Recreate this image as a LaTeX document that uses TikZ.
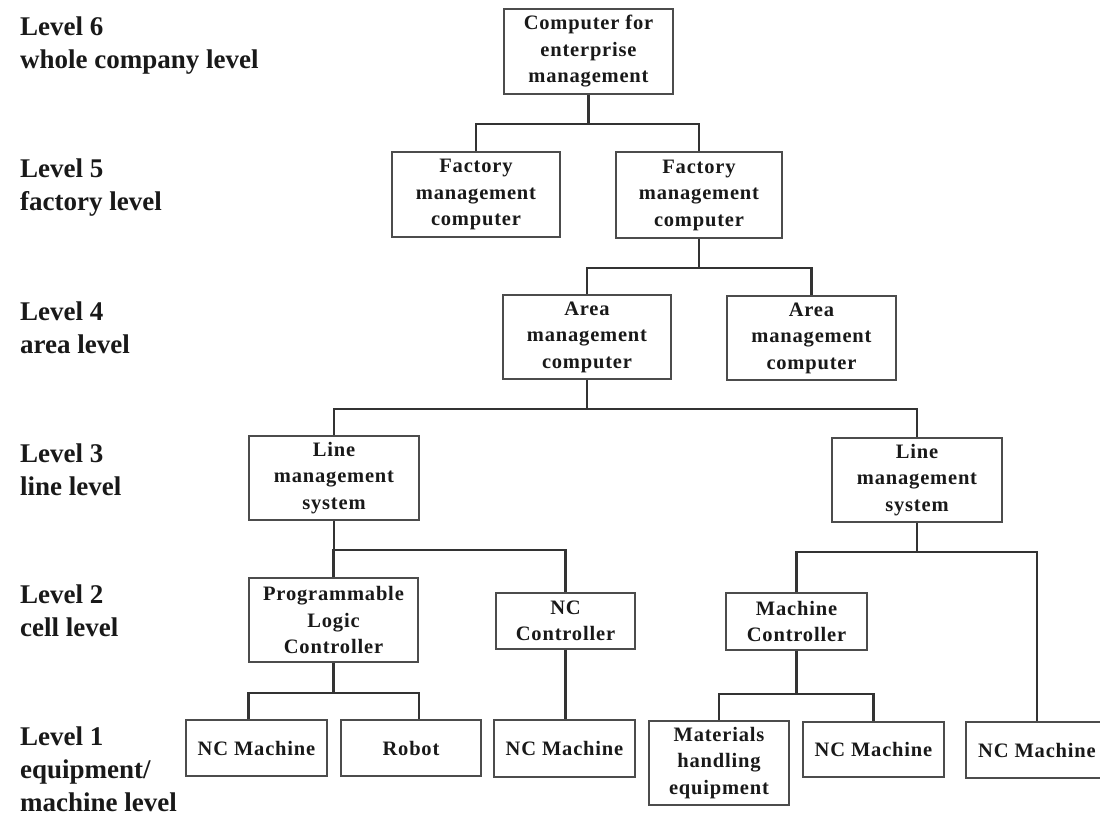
\documentclass[tikz,border=0pt]{standalone}
\usepackage{fontspec}
\setmainfont{Liberation Serif}
\newfontfamily\boxfont{Liberation Serif}[LetterSpace=4.0]
\begin{document}
\begin{tikzpicture}[x=1pt,y=-1pt,
  box/.style={draw=black!70, line width=1.2pt, fill=white, inner sep=0pt,
    align=center, text=black!90,
    font=\boxfont\bfseries\fontsize{20.5}{26.5}\selectfont},
  lvl/.style={anchor=base west, inner sep=0pt, align=left, text=black!90,
    font=\bfseries\fontsize{27}{33}\selectfont},
  wire/.style={draw=black!80, line width=2.2pt}]
\useasboundingbox (0,0) rectangle (1100,815);
\clip (0,0) rectangle (1100,815);

% level captions (anchored at the baseline of their last line)
\node[lvl] (t6) at (20,68)  {Level 6\\whole company level};
\node[lvl] (t5) at (20,210) {Level 5\\factory level};
\node[lvl] (t4) at (20,353) {Level 4\\area level};
\node[lvl] (t3) at (20,495) {Level 3\\line level};
\node[lvl] (t2) at (20,636) {Level 2\\cell level};
\node[lvl] (t1) at (20,811) {Level 1\\equipment/\\machine level};

% level 6
\node[box, minimum width=169pt, minimum height=85pt] (ent) at (588.5,51.5)
  {Computer for\\enterprise\\management};
% level 5
\node[box, minimum width=168pt, minimum height=85pt] (f1) at (476,194.5)
  {Factory\\management\\computer};
\node[box, minimum width=166pt, minimum height=86pt] (f2) at (699,195)
  {Factory\\management\\computer};
% level 4
\node[box, minimum width=168pt, minimum height=84pt] (a1) at (587,337)
  {Area\\management\\computer};
\node[box, minimum width=169pt, minimum height=84pt] (a2) at (811.5,338)
  {Area\\management\\computer};
% level 3
\node[box, minimum width=170pt, minimum height=84pt] (l1) at (334,478)
  {Line\\management\\system};
\node[box, minimum width=170pt, minimum height=84pt] (l2) at (917,480)
  {Line\\management\\system};
% level 2
\node[box, minimum width=169pt, minimum height=84pt] (plc) at (333.5,620)
  {Programmable\\Logic\\Controller};
\node[box, minimum width=139pt, minimum height=56pt] (ncc) at (565.5,621)
  {NC\\Controller};
\node[box, minimum width=141pt, minimum height=57pt] (mc) at (796.5,621.5)
  {Machine\\Controller};
% level 1
\node[box, minimum width=141pt, minimum height=56pt] (m1) at (256.5,748) {NC Machine};
\node[box, minimum width=140pt, minimum height=56pt] (rob) at (411,748) {Robot};
\node[box, minimum width=141pt, minimum height=57pt] (m3) at (564.5,748.5) {NC Machine};
\node[box, minimum width=140pt, minimum height=84pt] (mat) at (719,763)
  {Materials\\handling\\equipment};
\node[box, minimum width=141pt, minimum height=55pt] (m4) at (873.5,749.5) {NC Machine};
\node[box, minimum width=142pt, minimum height=56pt] (m5) at (1037,750) {NC Machine};

% connectors
\draw[wire] (ent.south) -- ++(0,29) coordinate (b1);
\draw[wire] (f1.north) |- (b1) -| (f2.north);

\draw[wire] (f2.south) -- ++(0,29) coordinate (b2);
\draw[wire] (a1.north) |- (b2) -| (a2.north);

\draw[wire] (a1.south) -- ++(0,29) coordinate (b3);
\draw[wire] (l1.north) |- (b3) -| (l2.north);

\draw[wire] (l1.south) -- ++(0,29) coordinate (b4);
\draw[wire] (plc.north) |- (b4) -| (ncc.north);

\draw[wire] (l2.south) -- ++(0,29) coordinate (b5);
\draw[wire] (mc.north) |- (b5) -| (m5.north);

\draw[wire] (plc.south) -- ++(0,30) coordinate (b6);
\draw[wire] (m1.north -| plc.west) |- (b6) -| (rob.north -| plc.east);

\draw[wire] (ncc.south) -- (ncc.south |- m3.north);

\draw[wire] (mc.south) -- ++(0,43) coordinate (b7);
\draw[wire] (mat.north) |- (b7) -| (m4.north);
\end{tikzpicture}
\end{document}
